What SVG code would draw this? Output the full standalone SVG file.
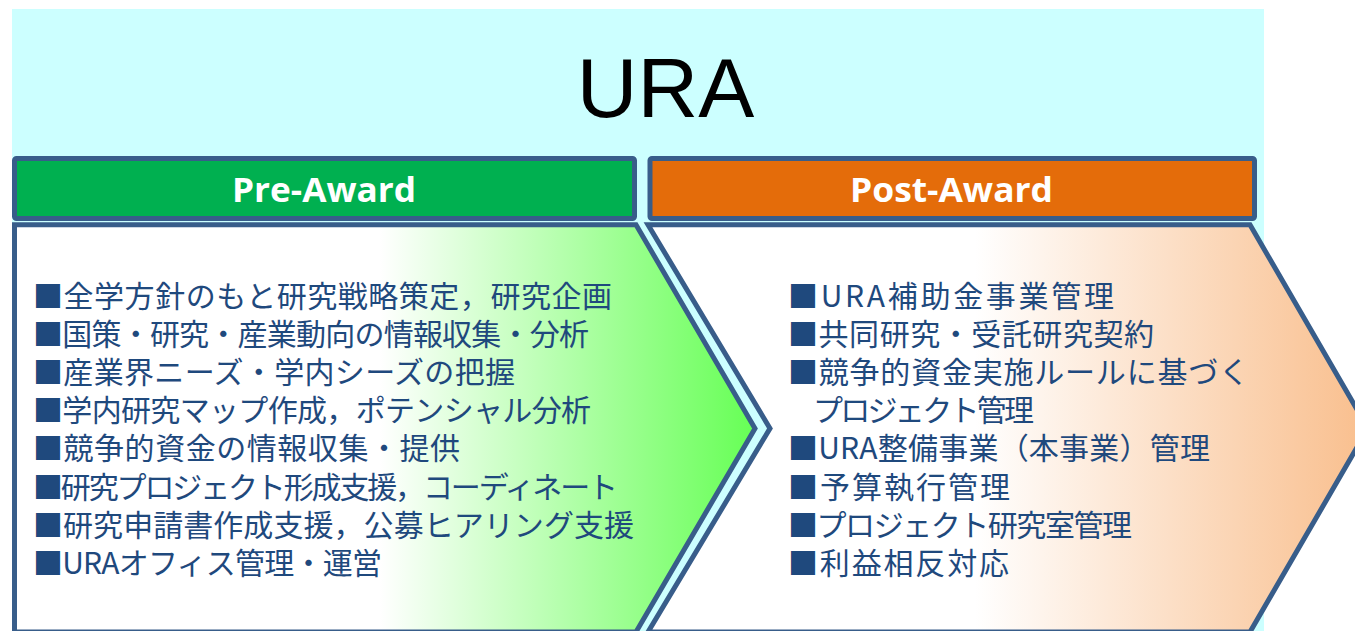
<svg xmlns="http://www.w3.org/2000/svg" width="1355" height="631" viewBox="0 0 1355 631">
<defs>
<linearGradient id="gPre" gradientUnits="userSpaceOnUse" x1="380" y1="0" x2="755" y2="0">
<stop offset="0" stop-color="#FFFFFF"/>
<stop offset="1" stop-color="#66FF55"/>
</linearGradient>
<linearGradient id="gPost" gradientUnits="userSpaceOnUse" x1="975" y1="0" x2="1365" y2="0">
<stop offset="0" stop-color="#FFFFFF"/>
<stop offset="1" stop-color="#F9BF8E"/>
</linearGradient>
<style>
.edge{stroke:#385D8A;stroke-width:5;stroke-linejoin:miter}
.hdr{font-family:"Open Sans","Liberation Sans",sans-serif;font-weight:bold;font-size:34px;fill:#FFFFFF;text-anchor:middle}
.item{font-family:"Noto Sans CJK JP","Noto Sans CJK SC",sans-serif;font-size:30px;fill:#1F497D}
.title{font-family:"Liberation Sans",Arial,sans-serif;font-size:84px;fill:#000000;text-anchor:middle}
</style>
</defs>
<rect x="12" y="9" width="1252" height="630" fill="#CCFFFF"/>
<text class="title" x="665.5" y="117">URA</text>
<g id="pre-award">
<rect class="edge" x="14.5" y="158.5" width="620" height="60" rx="2" fill="#00B050"/>
<text class="hdr" x="324" y="202" textLength="184" lengthAdjust="spacingAndGlyphs">Pre-Award</text>
</g>
<g id="post-award">
<rect class="edge" x="650" y="158.5" width="604.5" height="60" rx="2" fill="#E46C0A"/>
<text class="hdr" x="951.5" y="202" textLength="203" lengthAdjust="spacingAndGlyphs">Post-Award</text>
</g>
<g id="pre-chevron">
<path class="edge" d="M14.5,224.8 L636,224.8 L755,428.4 L636,632 L14.5,632 Z" fill="url(#gPre)"/>
<text class="item" x="33" y="307" textLength="579" lengthAdjust="spacing">■全学方針のもと研究戦略策定，研究企画</text>
<text class="item" x="33" y="345" textLength="556" lengthAdjust="spacing">■国策・研究・産業動向の情報収集・分析</text>
<text class="item" x="33" y="383" textLength="482" lengthAdjust="spacing">■産業界ニーズ・学内シーズの把握</text>
<text class="item" x="33" y="421" textLength="558" lengthAdjust="spacing">■学内研究マップ作成，ポテンシャル分析</text>
<text class="item" x="33" y="459" textLength="427" lengthAdjust="spacing">■競争的資金の情報収集・提供</text>
<text class="item" x="33" y="498" textLength="585" lengthAdjust="spacing">■研究プロジェクト形成支援，コーディネート</text>
<text class="item" x="33" y="536" textLength="601" lengthAdjust="spacing">■研究申請書作成支援，公募ヒアリング支援</text>
<text class="item" x="33" y="574" textLength="349" lengthAdjust="spacing">■URAオフィス管理・運営</text>
</g>
<g id="post-chevron">
<path class="edge" d="M648,224.8 L1250,224.8 L1368,428.4 L1250,632 L648,632 L770,428.4 Z" fill="url(#gPost)"/>
<text class="item" x="788" y="307" textLength="326" lengthAdjust="spacing">■URA補助金事業管理</text>
<text class="item" x="788" y="345" textLength="366" lengthAdjust="spacing">■共同研究・受託研究契約</text>
<text class="item" x="788" y="383" textLength="461" lengthAdjust="spacing">■競争的資金実施ルールに基づく</text>
<text class="item" x="813" y="421" textLength="221" lengthAdjust="spacing">プロジェクト管理</text>
<text class="item" x="788" y="459" textLength="422" lengthAdjust="spacing">■URA整備事業（本事業）管理</text>
<text class="item" x="788" y="498" textLength="222" lengthAdjust="spacing">■予算執行管理</text>
<text class="item" x="788" y="536" textLength="344" lengthAdjust="spacing">■プロジェクト研究室管理</text>
<text class="item" x="788" y="574" textLength="221" lengthAdjust="spacing">■利益相反対応</text>
</g>
<g id="connectors"/>
</svg>
